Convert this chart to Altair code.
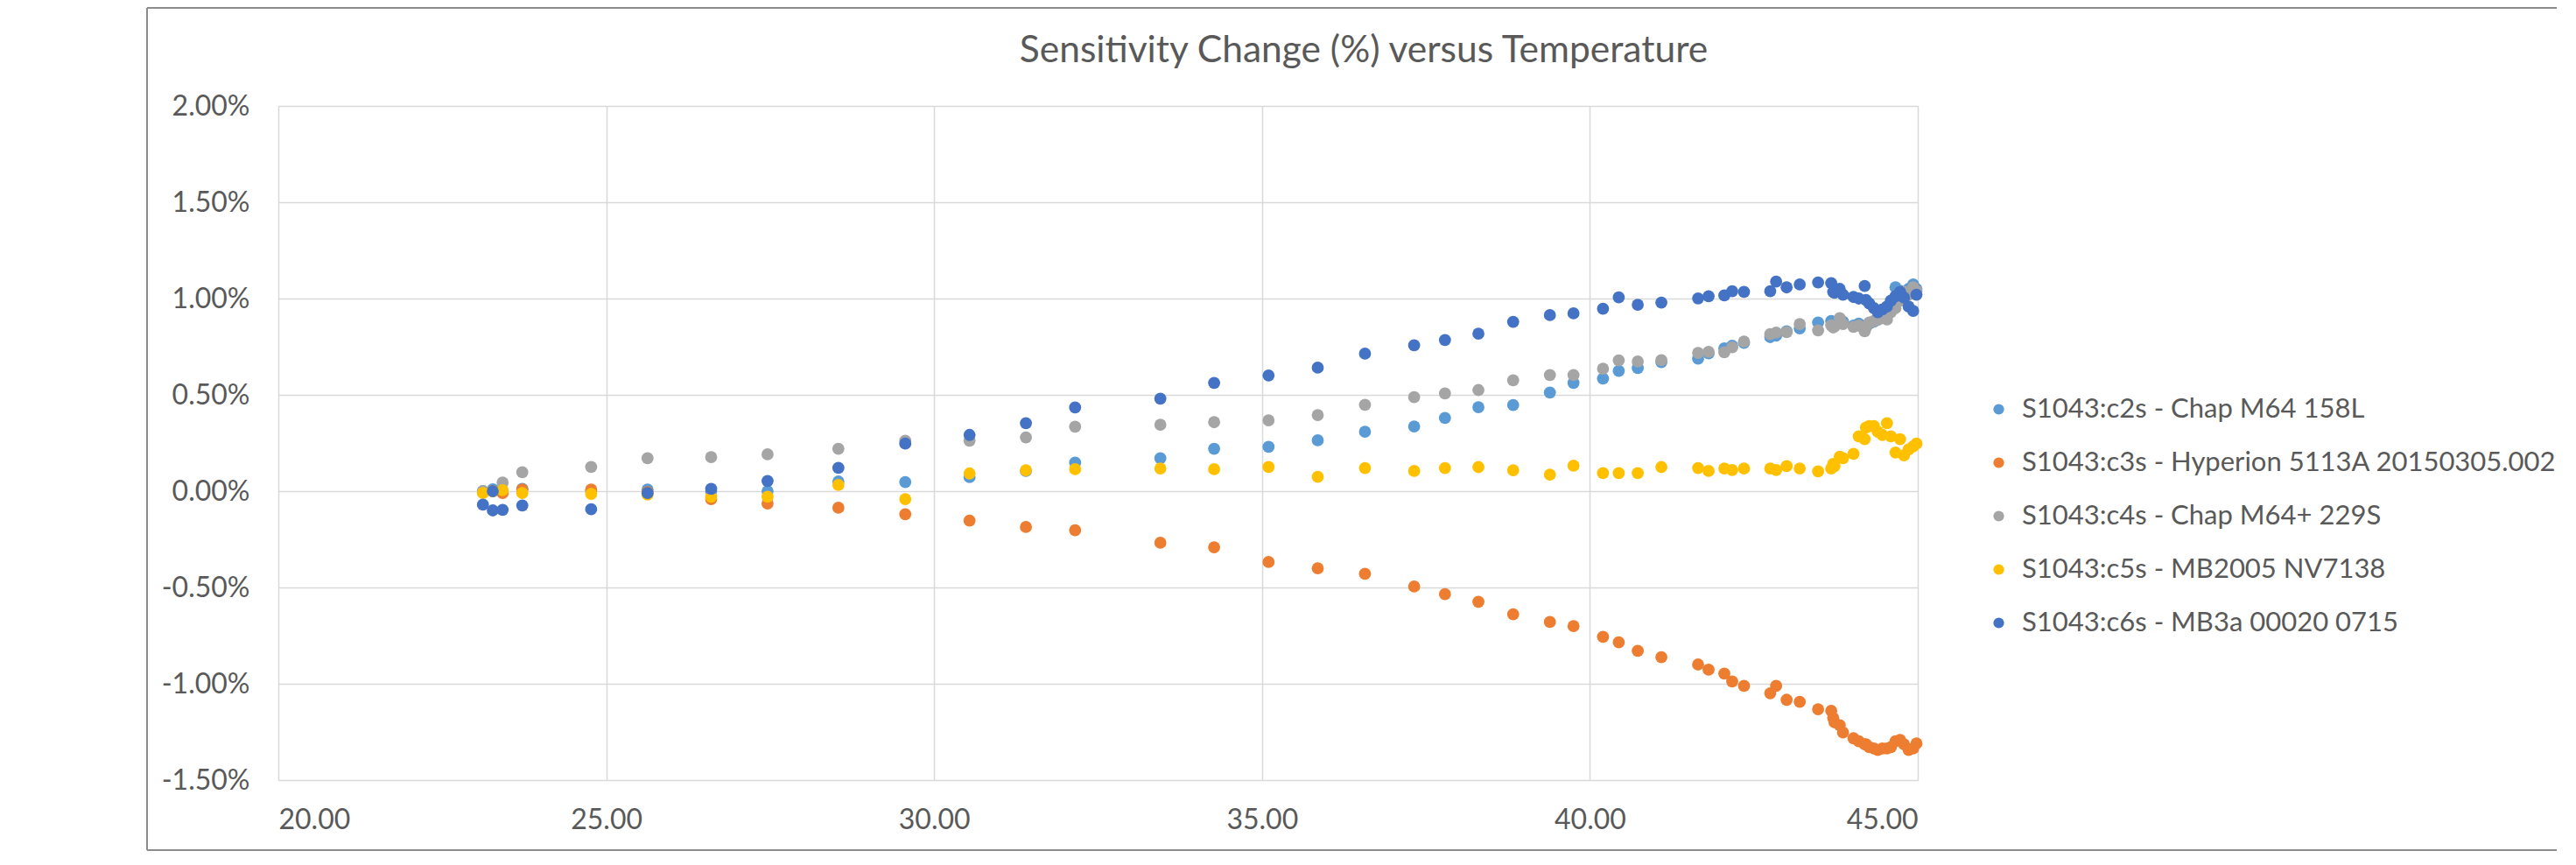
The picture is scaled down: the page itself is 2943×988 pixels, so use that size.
import altair as alt
import pandas as pd

temperature = [23.27, 23.12, 23.27, 23.42, 23.72, 24.77, 25.63, 26.60, 27.46, 28.54,
               29.56, 30.54, 31.40, 32.15, 33.45, 34.27, 35.10, 35.85, 36.57, 37.32,
               37.79, 38.30, 38.83, 39.39, 39.75, 40.20, 40.44, 40.73, 41.09, 41.65,
               41.81, 42.05, 42.17, 42.35, 42.75, 42.84, 43.00, 43.20, 43.48, 43.68,
               43.71, 43.73, 43.81, 43.86, 44.02, 44.10, 44.19, 44.21, 44.26, 44.33,
               44.39, 44.46, 44.53, 44.59, 44.66, 44.73, 44.79, 44.86, 44.93, 44.98]

c2s = [0.00, 0.00, 0.01, 0.00, 0.012, 0.00, 0.008, 0.00, 0.00, 0.05,
       0.047, 0.073, 0.105, 0.148, 0.171, 0.220, 0.230, 0.264, 0.309, 0.336,
       0.380, 0.436, 0.447, 0.512, 0.562, 0.585, 0.624, 0.639, 0.670, 0.688,
       0.715, 0.741, 0.755, 0.770, 0.800, 0.808, 0.830, 0.845, 0.876, 0.883,
       0.870, 0.860, 0.890, 0.880, 0.860, 0.870, 0.850, 0.860, 0.870, 0.880,
       0.890, 0.900, 0.910, 0.940, 1.058, 1.040, 1.030, 1.050, 1.073, 1.050]

c3s = [0.00, -0.005, 0.00, -0.01, 0.008, 0.008, -0.005, -0.041, -0.064, -0.086,
       -0.120, -0.153, -0.186, -0.203, -0.268, -0.291, -0.368, -0.401, -0.429, -0.495,
       -0.535, -0.574, -0.639, -0.679, -0.701, -0.756, -0.785, -0.829, -0.862, -0.900,
       -0.927, -0.947, -0.988, -1.011, -1.049, -1.011, -1.083, -1.094, -1.132, -1.140,
       -1.177, -1.200, -1.215, -1.253, -1.283, -1.298, -1.314, -1.314, -1.329, -1.336,
       -1.344, -1.336, -1.336, -1.329, -1.298, -1.291, -1.314, -1.344, -1.336, -1.310]

c4s = [0.00, 0.00, 0.00, 0.045, 0.098, 0.126, 0.171, 0.177, 0.191, 0.220,
       0.262, 0.262, 0.279, 0.335, 0.345, 0.358, 0.368, 0.395, 0.448, 0.488,
       0.507, 0.525, 0.576, 0.603, 0.603, 0.636, 0.679, 0.673, 0.680, 0.718,
       0.723, 0.721, 0.747, 0.777, 0.815, 0.823, 0.826, 0.868, 0.835, 0.861,
       0.850, 0.855, 0.898, 0.868, 0.853, 0.860, 0.830, 0.850, 0.876, 0.883,
       0.890, 0.898, 0.891, 0.929, 0.950, 0.989, 1.035, 1.020, 1.058, 1.040]

c5s = [0.00, -0.01, 0.00, 0.005, -0.01, -0.014, -0.018, -0.029, -0.029, 0.032,
       -0.041, 0.092, 0.108, 0.114, 0.118, 0.114, 0.126, 0.074, 0.120, 0.105,
       0.120, 0.125, 0.109, 0.086, 0.132, 0.094, 0.094, 0.094, 0.125, 0.120,
       0.105, 0.118, 0.110, 0.118, 0.118, 0.110, 0.130, 0.118, 0.103, 0.118,
       0.141, 0.130, 0.179, 0.171, 0.194, 0.285, 0.270, 0.330, 0.338, 0.338,
       0.308, 0.292, 0.353, 0.285, 0.201, 0.270, 0.186, 0.216, 0.232, 0.247]

c6s = [0.00, -0.07, -0.10, -0.097, -0.074, -0.094, -0.01, 0.012, 0.053, 0.121,
       0.247, 0.292, 0.353, 0.435, 0.480, 0.562, 0.601, 0.641, 0.714, 0.757,
       0.785, 0.818, 0.879, 0.914, 0.923, 0.947, 1.006, 0.968, 0.979, 1.001,
       1.012, 1.016, 1.038, 1.035, 1.038, 1.088, 1.058, 1.073, 1.084, 1.080,
       1.035, 1.030, 1.050, 1.020, 1.008, 1.000, 1.065, 0.993, 0.974, 0.951,
       0.929, 0.944, 0.959, 0.989, 1.012, 1.035, 1.005, 0.959, 0.936, 1.020]

series_names = [
    "S1043:c2s - Chap M64 158L",
    "S1043:c3s - Hyperion 5113A 20150305.002",
    "S1043:c4s - Chap M64+ 229S",
    "S1043:c5s - MB2005 NV7138",
    "S1043:c6s - MB3a 00020 0715",
]
series_values = [c2s, c3s, c4s, c5s, c6s]
series_colors = ["#5B9BD5", "#ED7D31", "#A5A5A5", "#FFC000", "#4472C4"]

chart_title = "Sensitivity Change (%) versus Temperature"
x_ticks = [20, 25, 30, 35, 40, 45]
y_ticks = [-1.5, -1.0, -0.5, 0.0, 0.5, 1.0, 1.5, 2.0]

rows = []
for name, vals in zip(series_names, series_values):
    for t, v in zip(temperature, vals):
        rows.append({"Temperature": t, "Change": v, "Series": name})
df = pd.DataFrame(rows)

FONT = "Lato"
TEXT = "#595959"
GRID = "#D9D9D9"
FRAME = "#8C8C8C"

points = alt.Chart(df).mark_circle(size=190, opacity=1).encode(
    x=alt.X("Temperature:Q",
            scale=alt.Scale(domain=[20, 45], nice=False, zero=False),
            axis=alt.Axis(values=x_ticks, format=".2f", title=None, grid=True,
                          gridColor=GRID, gridWidth=1.5, domain=False, ticks=False,
                          labelFont=FONT, labelFontSize=32, labelColor=TEXT,
                          labelPadding=30)),
    y=alt.Y("Change:Q",
            scale=alt.Scale(domain=[-1.5, 2.0], nice=False, zero=False),
            axis=alt.Axis(values=y_ticks, title=None, grid=True,
                          gridColor=GRID, gridWidth=1.5, domain=False, ticks=False,
                          labelExpr="(datum.value < 0 ? '-' : '') + format(abs(datum.value), '.2f') + '%'",
                          labelFont=FONT, labelFontSize=32, labelColor=TEXT,
                          labelPadding=33)),
    color=alt.Color("Series:N",
                    scale=alt.Scale(domain=series_names, range=series_colors),
                    legend=alt.Legend(title=None, orient="none", legendX=1950, legendY=331,
                                      symbolType="circle", symbolSize=150,
                                      symbolStrokeWidth=0, labelFont=FONT,
                                      labelFontSize=31, labelColor=TEXT,
                                      labelOffset=11, rowPadding=29,
                                      labelLimit=1000)),
)

one = pd.DataFrame({"k": [0]})
frame_top = alt.Chart(one).mark_rule(stroke=FRAME, strokeWidth=2).encode(
    x=alt.value(-150), x2=alt.value(3200), y=alt.value(-112))
frame_bottom = alt.Chart(one).mark_rule(stroke=FRAME, strokeWidth=2).encode(
    x=alt.value(-150), x2=alt.value(3200), y=alt.value(850))
frame_left = alt.Chart(one).mark_rule(stroke=FRAME, strokeWidth=2).encode(
    x=alt.value(-150), y=alt.value(-112), y2=alt.value(850))

title = alt.Chart(pd.DataFrame({"t": [chart_title]})).mark_text(
    font=FONT, fontSize=42.5, color=TEXT, align="center", baseline="alphabetic"
).encode(
    text="t:N", x=alt.value(1240), y=alt.value(-50)
)

chart = alt.layer(frame_top, frame_bottom, frame_left, title, points).properties(
    width=1873,
    height=770,
    padding={"left": 310, "top": 113, "right": 730, "bottom": 82},
    autosize=alt.AutoSizeParams(type="none"),
).configure_view(stroke=GRID, strokeWidth=1.5).configure(background="white")

chart.save("out.html", embed_options={"renderer": "svg", "actions": False})
